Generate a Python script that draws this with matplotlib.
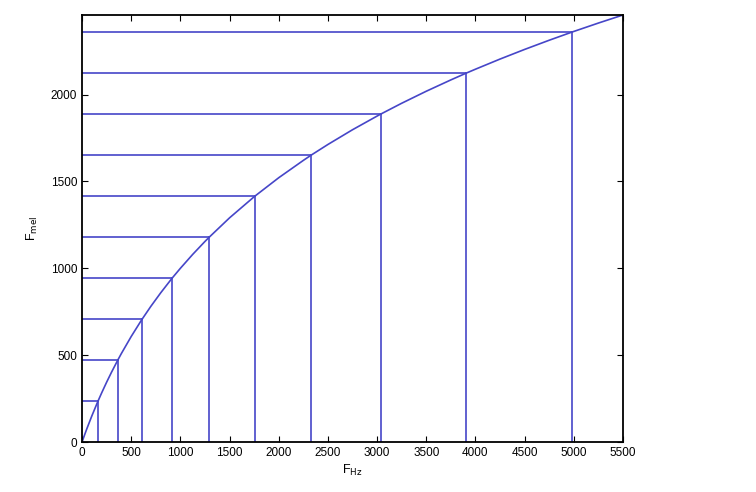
import numpy as np
import matplotlib
matplotlib.use("Agg")
import matplotlib.pyplot as plt

plt.rcParams["font.family"] = ["Liberation Sans", "DejaVu Sans"]

# mel curve
curve_hz = [0, 25, 50, 100, 150, 200, 250, 300, 400, 500, 600, 700, 800, 900,
            1000, 1125, 1250, 1500, 1750, 2000, 2250, 2500, 2750, 3000, 3250,
            3500, 3750, 4000, 4250, 4500, 4750, 5000, 5250, 5500]
curve_mel = [0, 39.5, 77.8, 150.5, 218.8, 283.2, 344.2, 402.0, 509.4, 607.4,
             697.7, 781.2, 858.9, 931.7, 1000.0, 1079.9, 1154.6, 1290.5,
             1411.9, 1521.4, 1621.1, 1712.8, 1797.6, 1876.4, 1950.1, 2019.3,
             2084.5, 2146.1, 2204.5, 2260.0, 2312.9, 2363.5, 2411.8, 2458.2]

# filter centre points (equally spaced on mel axis)
band_hz = [163, 364, 612, 917, 1295, 1759, 2331, 3038, 3908, 4982]
band_mel = [236, 472, 708, 944, 1180, 1416, 1652, 1888, 2124, 2360]

xticks = list(range(0, 5501, 500))
yticks = [0, 500, 1000, 1500, 2000]

line_color = "#4646c8"

# band points lie on the curve too
pts = sorted(zip(curve_hz + band_hz, curve_mel + band_mel))
xs = [p[0] for p in pts]
ys = [p[1] for p in pts]

fig = plt.figure(figsize=(7.56, 4.92), dpi=100)
ax = fig.add_axes([0.1085, 0.1016, 0.7155, 0.8679])

ax.plot(xs, ys, color=line_color, linewidth=1.2)
for f, m in zip(band_hz, band_mel):
    ax.plot([0, f], [m, m], color=line_color, linewidth=1.2)
    ax.plot([f, f], [0, m], color=line_color, linewidth=1.2)

ax.set_xlim(0, 5500)
ax.set_ylim(0, curve_mel[-1])
ax.set_xticks(xticks)
ax.set_yticks(yticks)
ax.tick_params(direction="in", top=True, right=True, labelsize=8.5, length=4)
for s in ax.spines.values():
    s.set_linewidth(1.3)

ax.set_xlabel(r"F$_{\mathrm{Hz}}$", fontsize=9, labelpad=3)
ax.set_ylabel(r"F$_{\mathrm{mel}}$", fontsize=9, labelpad=8)

fig.savefig("out.png", dpi=100)
